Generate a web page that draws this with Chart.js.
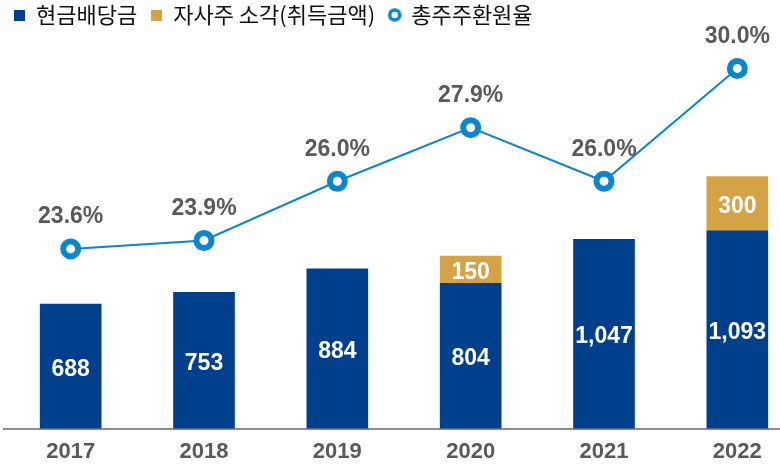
<!DOCTYPE html>
<html>
<head>
<meta charset="utf-8">
<script src="https://cdn.jsdelivr.net/npm/chart.js@4/dist/chart.umd.min.js"></script>
<style>
  html, body { margin: 0; padding: 0; background: #fff; overflow: hidden; }
  #wrap { width: 780px; height: 465px; overflow: hidden; }
  canvas { display: block; }
</style>
</head>
<body>
<div id="wrap"><canvas id="c" width="804" height="465"></canvas></div>
<script>
// ---- data ----
const years = ['2017', '2018', '2019', '2020', '2021', '2022'];
const cashDividend = [688, 753, 884, 804, 1047, 1093];
const buyback = [null, null, null, 150, null, 300];
const totalReturnRate = [23.6, 23.9, 26.0, 27.9, 26.0, 30.0];
const seriesNames = ['현금배당금', '자사주 소각(취득금액)', '총주주환원율'];

// ---- styles ----
const BLUE = '#003F8C';
const GOLD = '#D4A346';
const LINE = '#0A85CF';
const GREY = '#595959';
const NUM_FONT = '"Liberation Sans", Arial, sans-serif';

function squareIcon(color) {
  const c = document.createElement('canvas');
  c.width = 11; c.height = 11;
  const g = c.getContext('2d');
  g.fillStyle = color; g.fillRect(0, 0, 11, 11);
  return c;
}
function ringIcon(color) {
  const c = document.createElement('canvas');
  c.width = 14; c.height = 14;
  const g = c.getContext('2d');
  g.beginPath(); g.arc(7, 7, 5, 0, Math.PI * 2);
  g.fillStyle = '#fff'; g.fill();
  g.lineWidth = 3.6; g.strokeStyle = color; g.stroke();
  return c;
}
const legendIcons = [squareIcon(BLUE), squareIcon(GOLD), ringIcon(LINE)];

const valueLabels = {
  id: 'valueLabels',
  afterDatasetsDraw(chart) {
    const ctx = chart.ctx;
    chart.data.datasets.forEach((ds, di) => {
      const meta = chart.getDatasetMeta(di);
      if (meta.hidden) return;
      meta.data.forEach((el, i) => {
        const v = ds.data[i];
        if (v == null) return;
        ctx.save();
        ctx.font = 'bold 23px ' + NUM_FONT;
        ctx.textAlign = 'center';
        ctx.textBaseline = 'middle';
        if (ds.type === 'line') {
          ctx.fillStyle = GREY;
          ctx.fillText(v.toFixed(1) + '%', el.x, el.y - 32);
        } else {
          const p = el.getProps(['x', 'y', 'base'], true);
          ctx.fillStyle = '#fff';
          ctx.fillText(v.toLocaleString('en-US'), p.x, (p.y + p.base) / 2 + 3);
        }
        ctx.restore();
      });
    });
  }
};

new Chart(document.getElementById('c'), {
  data: {
    labels: years,
    datasets: [
      { type: 'bar', label: seriesNames[0], data: cashDividend, backgroundColor: BLUE,
        yAxisID: 'y', stack: 's', order: 2, barThickness: 61 },
      { type: 'bar', label: seriesNames[1], data: buyback, backgroundColor: GOLD,
        yAxisID: 'y', stack: 's', order: 2, barThickness: 61 },
      { type: 'line', label: seriesNames[2], data: totalReturnRate, yAxisID: 'y1', order: 0,
        borderColor: LINE, borderWidth: 2, backgroundColor: '#fff',
        pointRadius: 7.5, pointBorderWidth: 6, pointBackgroundColor: '#fff',
        pointBorderColor: LINE, pointHoverRadius: 7.5, clip: false, tension: 0 }
    ]
  },
  options: {
    responsive: false,
    devicePixelRatio: 1,
    animation: false,
    layout: { autoPadding: false, padding: { top: -10, left: 0, right: 0, bottom: -10 } },
    plugins: {
      tooltip: { enabled: false },
      legend: {
        position: 'top',
        align: 'start',
        labels: {
          usePointStyle: true,
          boxWidth: 11,
          boxHeight: 11,
          padding: 14,
          color: '#111',
          font: { family: '"Noto Sans CJK KR", "Noto Sans", sans-serif', size: 22 },
          sort: (a, b) => a.datasetIndex - b.datasetIndex,
          generateLabels(chart) {
            const items = Chart.defaults.plugins.legend.labels.generateLabels(chart);
            items.forEach((it) => { it.pointStyle = legendIcons[it.datasetIndex]; });
            return items;
          }
        }
      }
    },
    scales: {
      x: {
        stacked: true,
        grid: { display: false, drawTicks: false },
        border: { display: true, color: '#8C8C8C', width: 2 },
        ticks: { color: GREY, padding: 10, font: { family: NUM_FONT, size: 22, weight: 'bold' } }
      },
      y: {
        stacked: true,
        min: 0,
        max: 2171,
        display: true,
        grid: { display: false },
        border: { display: false },
        ticks: { display: false },
        afterFit(s) { s.width = 4; }
      },
      y1: {
        position: 'right',
        display: false,
        min: 17.23,
        max: 31.15
      }
    }
  },
  plugins: [valueLabels]
});
</script>
</body>
</html>
